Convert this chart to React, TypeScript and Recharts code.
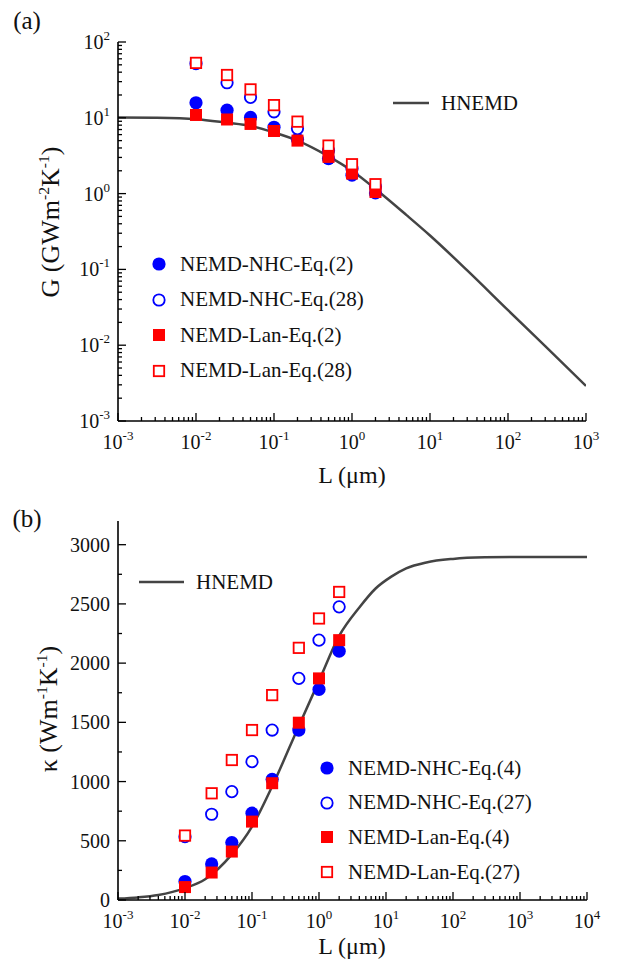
import React from "react";
import { ComposedChart, Line, Scatter, XAxis, YAxis } from "recharts";

// lengths of the NEMD runs, µm
const L_NEMD = [0.01, 0.025, 0.05, 0.1, 0.2, 0.5, 1, 2];

// (a) thermal conductance G (GW m^-2 K^-1)
const G_NHC_EQ2 = [15.8, 12.6, 10.1, 7.5, 5.2, 2.9, 1.75, 1.02];
const G_NHC_EQ28 = [52, 29, 18.6, 12, 7.2, 3.7, 2.15, 1.23];
const G_LAN_EQ2 = [10.9, 9.5, 8.3, 6.7, 5.0, 3.05, 1.84, 1.05];
const G_LAN_EQ28 = [53, 36.7, 23.7, 14.7, 8.9, 4.3, 2.44, 1.33];

const L_HNEMD_A = [0.001, 0.003, 0.01, 0.025, 0.05, 0.1, 0.2, 0.5, 1, 2, 5, 10, 30, 100, 300, 1000];
const G_HNEMD = [10.1, 10.0, 9.6, 8.6, 7.8, 6.4, 5.0, 3.1, 2.0, 1.15, 0.52, 0.28, 0.097, 0.029, 0.0097, 0.0029];

// (b) thermal conductivity kappa (W m^-1 K^-1)
const K_NHC_EQ4 = [156, 305, 485, 733, 1019, 1435, 1778, 2101];
const K_NHC_EQ27 = [535, 724, 915, 1168, 1435, 1871, 2194, 2475];
const K_LAN_EQ4 = [109, 232, 409, 662, 986, 1497, 1871, 2194];
const K_LAN_EQ27 = [544, 901, 1182, 1435, 1730, 2129, 2377, 2601];

const L_HNEMD_B = [0.001, 0.002, 0.004, 0.01, 0.02, 0.05, 0.1, 0.2, 0.5, 1, 2, 4, 7, 12, 20, 40, 100, 300, 1000, 10000];
const K_HNEMD = [12, 22, 42, 100, 175, 385, 620, 960, 1470, 1850, 2230, 2470, 2630, 2730, 2800, 2850, 2880, 2893, 2896, 2896];

// axis ticks
const X_DECADES_A = [1e-3, 1e-2, 1e-1, 1, 10, 100, 1000];
const Y_DECADES_A = [1e-3, 1e-2, 1e-1, 1, 10, 100];
const X_DECADES_B = [1e-3, 1e-2, 1e-1, 1, 10, 100, 1000, 10000];
const Y_MAJOR_B = [0, 500, 1000, 1500, 2000, 2500, 3000];
const Y_MINOR_B = [250, 750, 1250, 1750, 2250, 2750];

const LEGEND_A = ["NEMD-NHC-Eq.(2)", "NEMD-NHC-Eq.(28)", "NEMD-Lan-Eq.(2)", "NEMD-Lan-Eq.(28)"];
const LEGEND_B = ["NEMD-NHC-Eq.(4)", "NEMD-NHC-Eq.(27)", "NEMD-Lan-Eq.(4)", "NEMD-Lan-Eq.(27)"];

const FONT = "'Liberation Serif', 'Times New Roman', serif";
const BLUE = "#0000ff";
const RED = "#ff0000";
const CURVE = "#444444";

type Style = { kind: "circle" | "square"; filled: boolean; color: string };
const STYLES: Style[] = [
  { kind: "circle", filled: true, color: BLUE },
  { kind: "circle", filled: false, color: BLUE },
  { kind: "square", filled: true, color: RED },
  { kind: "square", filled: false, color: RED },
];

const pts = (xs: number[], ys: number[]) => xs.map((L, i) => ({ L, v: ys[i] }));

// full list of log ticks (decades + 2..9 minors)
const logTicks = (decades: number[]) => {
  const out: number[] = [];
  decades.forEach((d, i) => {
    out.push(d);
    if (i < decades.length - 1) for (let m = 2; m <= 9; m++) out.push(m * d);
  });
  return out;
};
const isDecade = (v: number) => Math.abs(Math.log10(v) - Math.round(Math.log10(v))) < 1e-6;

function Marker({ cx, cy, s }: { cx: number; cy: number; s: Style }) {
  if (s.kind === "circle") {
    return s.filled ? (
      <circle cx={cx} cy={cy} r={6.6} fill={s.color} />
    ) : (
      <circle cx={cx} cy={cy} r={5.7} fill="#fff" stroke={s.color} strokeWidth={1.8} />
    );
  }
  return s.filled ? (
    <rect x={cx - 6} y={cy - 6} width={12} height={12} fill={s.color} />
  ) : (
    <rect x={cx - 5.2} y={cy - 5.2} width={10.4} height={10.4} fill="#fff" stroke={s.color} strokeWidth={1.8} />
  );
}

type Side = "bottom" | "top" | "left" | "right";

function makeTick(side: Side, isMajor: (v: number) => boolean, label?: (v: number) => React.ReactNode) {
  return (props: any) => {
    const { x, y, payload } = props;
    const v = payload.value;
    const len = isMajor(v) ? 8 : 4;
    let x2 = x;
    let y2 = y;
    if (side === "bottom") y2 = y - len;
    else if (side === "top") y2 = y + len;
    else if (side === "left") x2 = x + len;
    else x2 = x - len;
    let txt = null;
    if (label && isMajor(v)) {
      txt =
        side === "bottom" ? (
          <text x={x} y={y + 28} textAnchor="middle" fontFamily={FONT} fontSize={20} fill="#111">
            {label(v)}
          </text>
        ) : (
          <text x={x - 8} y={y + 7} textAnchor="end" fontFamily={FONT} fontSize={20} fill="#111">
            {label(v)}
          </text>
        );
    }
    return (
      <g>
        <line x1={x} y1={y} x2={x2} y2={y2} stroke="#000" strokeWidth={1.3} />
        {txt}
      </g>
    );
  };
}

const powLabel = (v: number) => (
  <>
    10
    <tspan dy={-9} fontSize={13}>
      {String(Math.round(Math.log10(v)))}
    </tspan>
  </>
);
const plainLabel = (v: number) => String(v);
const isMajorB = (v: number) => v % 500 === 0;

const AXIS_LINE = { stroke: "#000", strokeWidth: 1.6 };

function CurveLegend({ x, y, len }: { x: number; y: number; len: number }) {
  return (
    <div style={{ position: "absolute", left: x, top: y - 13, display: "flex", alignItems: "center", height: 26 }}>
      <svg width={len} height={6} style={{ marginRight: 12 }}>
        <line x1={0} y1={3} x2={len} y2={3} stroke={CURVE} strokeWidth={2.5} />
      </svg>
      <span style={{ fontSize: 21 }}>HNEMD</span>
    </div>
  );
}

function PointLegend({ x, y, gap, names }: { x: number; y: number; gap: number; names: string[] }) {
  return (
    <>
      {names.map((n, i) => (
        <div
          key={n}
          style={{ position: "absolute", left: x - 10, top: y + i * gap - 13, display: "flex", alignItems: "center", height: 26 }}
        >
          <svg width={20} height={20} style={{ marginRight: 11 }}>
            <Marker cx={10} cy={10} s={STYLES[i]} />
          </svg>
          <span style={{ fontSize: 21, whiteSpace: "nowrap" }}>{n}</span>
        </div>
      ))}
    </>
  );
}

const abs = (left: number, top: number, extra: React.CSSProperties = {}): React.CSSProperties => ({
  position: "absolute",
  left,
  top,
  transform: "translate(-50%, -50%)",
  whiteSpace: "nowrap",
  lineHeight: 1,
  ...extra,
});
const sup: React.CSSProperties = { fontSize: "0.6em", verticalAlign: "0.6em" };

export default function App() {
  const seriesA = [G_NHC_EQ2, G_NHC_EQ28, G_LAN_EQ2, G_LAN_EQ28];
  const seriesB = [K_NHC_EQ4, K_NHC_EQ27, K_LAN_EQ4, K_LAN_EQ27];
  const xTicksA = logTicks(X_DECADES_A);
  const yTicksA = logTicks(Y_DECADES_A);
  const xTicksB = logTicks(X_DECADES_B);
  const yTicksB = [...Y_MAJOR_B, ...Y_MINOR_B].sort((a, b) => a - b);

  return (
    <div
      style={{
        position: "absolute",
        left: 0,
        top: 0,
        width: 618,
        height: 969,
        background: "#fff",
        fontFamily: FONT,
        color: "#111",
      }}
    >
      {/* panel (a) */}
      <div style={{ position: "absolute", left: 0, top: 0 }}>
        <ComposedChart width={618} height={490} margin={{ top: 42, right: 32, bottom: 0, left: 0 }}>
          <XAxis
            xAxisId="b"
            type="number"
            dataKey="L"
            scale="log"
            domain={[1e-3, 1e3]}
            allowDataOverflow
            ticks={xTicksA}
            interval={0}
            height={69}
            tickSize={0}
            tickMargin={0}
            tickLine={false}
            axisLine={AXIS_LINE}
            tick={makeTick("bottom", isDecade, powLabel)}
          />
          <XAxis
            xAxisId="t"
            orientation="top"
            type="number"
            dataKey="L"
            scale="log"
            domain={[1e-3, 1e3]}
            allowDataOverflow
            ticks={xTicksA}
            interval={0}
            height={0}
            tickSize={0}
            tickMargin={0}
            tickLine={false}
            axisLine={AXIS_LINE}
            tick={makeTick("top", isDecade)}
          />
          <YAxis
            yAxisId="l"
            type="number"
            dataKey="v"
            scale="log"
            domain={[1e-3, 100]}
            allowDataOverflow
            ticks={yTicksA}
            interval={0}
            width={118}
            tickSize={0}
            tickMargin={0}
            tickLine={false}
            axisLine={AXIS_LINE}
            tick={makeTick("left", isDecade, powLabel)}
          />
          <YAxis
            yAxisId="r"
            orientation="right"
            type="number"
            dataKey="v"
            scale="log"
            domain={[1e-3, 100]}
            allowDataOverflow
            ticks={yTicksA}
            interval={0}
            width={0}
            tickSize={0}
            tickMargin={0}
            tickLine={false}
            axisLine={AXIS_LINE}
            tick={makeTick("right", isDecade)}
          />
          <Line
            xAxisId="b"
            yAxisId="l"
            data={pts(L_HNEMD_A, G_HNEMD)}
            dataKey="v"
            type="monotone"
            stroke={CURVE}
            strokeWidth={2.5}
            dot={false}
            isAnimationActive={false}
          />
          {seriesA.map((ys, i) => (
            <Scatter
              key={LEGEND_A[i]}
              xAxisId="b"
              yAxisId="l"
              name={LEGEND_A[i]}
              data={pts(L_NEMD, ys)}
              dataKey="v"
              isAnimationActive={false}
              shape={(p: any) => <Marker cx={p.cx} cy={p.cy} s={STYLES[i]} />}
            />
          ))}
        </ComposedChart>
      </div>

      {/* panel (b) */}
      <div style={{ position: "absolute", left: 0, top: 490 }}>
        <ComposedChart width={618} height={479} margin={{ top: 31, right: 31, bottom: 0, left: 0 }}>
          <XAxis
            xAxisId="b"
            type="number"
            dataKey="L"
            scale="log"
            domain={[1e-3, 1e4]}
            allowDataOverflow
            ticks={xTicksB}
            interval={0}
            height={69}
            tickSize={0}
            tickMargin={0}
            tickLine={false}
            axisLine={AXIS_LINE}
            tick={makeTick("bottom", isDecade, powLabel)}
          />
          <XAxis
            xAxisId="t"
            orientation="top"
            type="number"
            dataKey="L"
            scale="log"
            domain={[1e-3, 1e4]}
            allowDataOverflow
            ticks={xTicksB}
            interval={0}
            height={0}
            tickSize={0}
            tickMargin={0}
            tickLine={false}
            axisLine={AXIS_LINE}
            tick={makeTick("top", isDecade)}
          />
          <YAxis
            yAxisId="l"
            type="number"
            dataKey="v"
            domain={[0, 3200]}
            allowDataOverflow
            ticks={yTicksB}
            interval={0}
            width={118}
            tickSize={0}
            tickMargin={0}
            tickLine={false}
            axisLine={AXIS_LINE}
            tick={makeTick("left", isMajorB, plainLabel)}
          />
          <YAxis
            yAxisId="r"
            orientation="right"
            type="number"
            dataKey="v"
            domain={[0, 3200]}
            allowDataOverflow
            ticks={yTicksB}
            interval={0}
            width={0}
            tickSize={0}
            tickMargin={0}
            tickLine={false}
            axisLine={AXIS_LINE}
            tick={makeTick("right", isMajorB)}
          />
          <Line
            xAxisId="b"
            yAxisId="l"
            data={pts(L_HNEMD_B, K_HNEMD)}
            dataKey="v"
            type="monotone"
            stroke={CURVE}
            strokeWidth={2.5}
            dot={false}
            isAnimationActive={false}
          />
          {seriesB.map((ys, i) => (
            <Scatter
              key={LEGEND_B[i]}
              xAxisId="b"
              yAxisId="l"
              name={LEGEND_B[i]}
              data={pts(L_NEMD, ys)}
              dataKey="v"
              isAnimationActive={false}
              shape={(p: any) => <Marker cx={p.cx} cy={p.cy} s={STYLES[i]} />}
            />
          ))}
        </ComposedChart>
      </div>

      {/* text overlays */}
      <div style={abs(27, 20, { fontSize: 25 })}>(a)</div>
      <div style={abs(27, 518, { fontSize: 25 })}>(b)</div>

      <div style={abs(50, 222, { fontSize: 26, transform: "translate(-50%, -50%) rotate(-90deg)" })}>
        G (GWm<span style={sup}>-2</span>K<span style={sup}>-1</span>)
      </div>
      <div style={abs(48, 709, { fontSize: 26, transform: "translate(-50%, -50%) rotate(-90deg)" })}>
        κ (Wm<span style={sup}>-1</span>K<span style={sup}>-1</span>)
      </div>
      <div style={abs(352, 475, { fontSize: 24 })}>L (μm)</div>
      <div style={abs(352, 946, { fontSize: 24 })}>L (μm)</div>

      <CurveLegend x={393} y={103} len={36} />
      <PointLegend x={159} y={264} gap={35.5} names={LEGEND_A} />

      <CurveLegend x={139} y={582} len={45} />
      <PointLegend x={327} y={768} gap={34.7} names={LEGEND_B} />
    </div>
  );
}
